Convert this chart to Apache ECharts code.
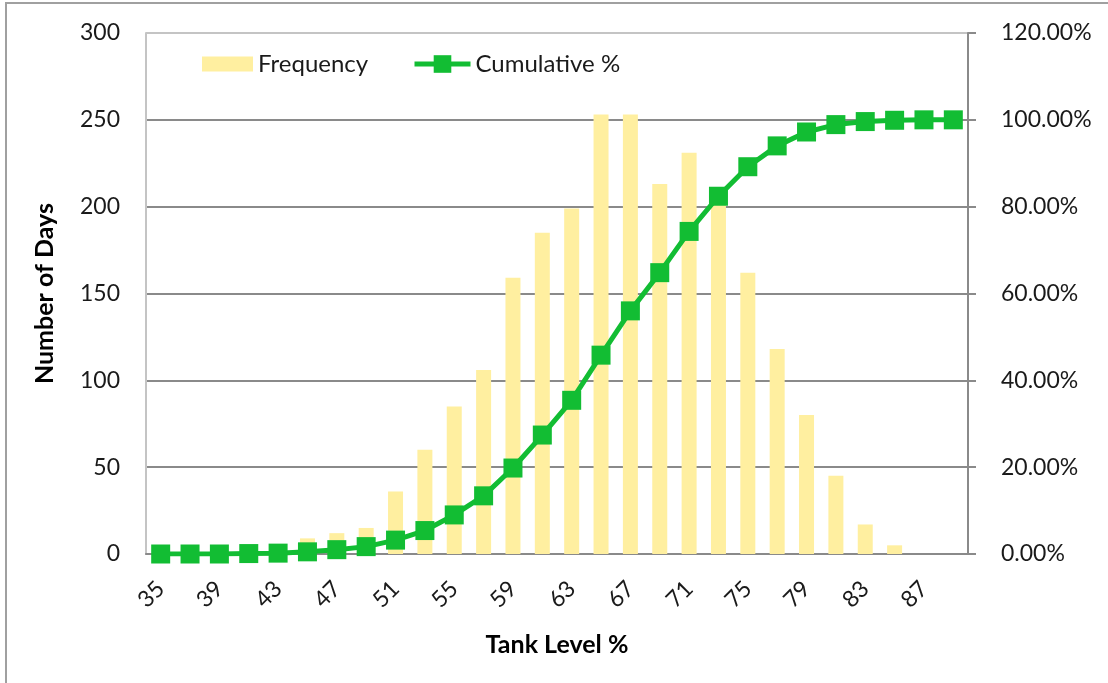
<!DOCTYPE html>
<html>
<head>
<meta charset="utf-8">
<script src="https://cdn.jsdelivr.net/npm/echarts@6/dist/echarts.min.js"></script>
<style>
  html, body { margin: 0; padding: 0; background: #fff; }
  #chart { width: 1108px; height: 683px; }
</style>
</head>
<body>
<div id="chart"></div>
<script>
// Tank level bins (%)
const tankLevels = ['35','37','39','41','43','45','47','49','51','53','55','57','59','61',
                    '63','65','67','69','71','73','75','77','79','81','83','85','87','89'];
// Number of days in each bin
const frequency = [0, 0, 0, 1, 2, 9, 12, 15, 36, 60, 85, 106, 159, 185,
                   199, 253, 253, 213, 231, 201, 162, 118, 80, 45, 17, 5, 0, 0];
// Running total as a share of all days (%)
const cumulativePct = [0, 0, 0, 0.1, 0.2, 0.5, 1.0, 1.7, 3.2, 5.4, 9.0, 13.4, 19.8, 27.4,
                       35.4, 45.8, 56.0, 64.8, 74.3, 82.4, 89.2, 94.0, 97.2, 98.9, 99.6, 99.9, 100, 100];

const FONT = 'Lato';
const TEXT = '#1a1a1a';
const GRID_DARK = '#8a8a8a';
const GRID_LIGHT = '#c4c4c4';
const GREEN = '#12BD33';

const chart = echarts.init(document.getElementById('chart'), null, { renderer: 'canvas' });

const legendText = { fontFamily: FONT, fontSize: 24, color: TEXT };

chart.setOption({
  backgroundColor: '#ffffff',
  animation: false,
  textStyle: { fontFamily: FONT },
  graphic: [{
    type: 'rect',
    shape: { x: 6, y: 3, width: 1300, height: 900 },
    style: { fill: 'none', stroke: '#a0a0a0', lineWidth: 2 },
    silent: true,
    z: 0
  }],
  grid: { left: 146, right: 140, top: 33, bottom: 129 },
  legend: [
    {
      left: 202,
      top: 52,
      padding: 0,
      itemWidth: 51,
      itemHeight: 15,
      textStyle: legendText,
      data: [{ name: 'Frequency', icon: 'rect' }]
    },
    {
      left: 412,
      top: 52,
      padding: 0,
      itemWidth: 56,
      itemHeight: 22,
      lineStyle: { width: 5, color: GREEN },
      textStyle: legendText,
      data: [{ name: 'Cumulative %' }]
    }
  ],
  xAxis: {
    type: 'category',
    data: tankLevels,
    name: 'Tank Level %',
    nameLocation: 'middle',
    nameGap: 78,
    nameTextStyle: { fontFamily: FONT, fontSize: 25, fontWeight: 'bold', color: '#000' },
    axisLine: { show: true, lineStyle: { color: GRID_DARK, width: 2 } },
    axisTick: { show: false },
    axisLabel: {
      interval: 1,
      rotate: 45,
      margin: 31,
      fontFamily: FONT,
      fontSize: 23,
      color: TEXT
    },
    splitLine: { show: false }
  },
  yAxis: [
    {
      type: 'value',
      min: 0,
      max: 300,
      interval: 50,
      name: 'Number of Days',
      nameLocation: 'middle',
      nameGap: 89,
      nameRotate: 90,
      nameTextStyle: { fontFamily: FONT, fontSize: 25, fontWeight: 'bold', color: '#000' },
      axisLine: { show: true, lineStyle: { color: GRID_LIGHT, width: 2 } },
      axisTick: { show: false },
      axisLabel: { margin: 26, fontFamily: FONT, fontSize: 23, color: TEXT },
      splitLine: {
        show: true,
        lineStyle: {
          color: [GRID_DARK, GRID_DARK, GRID_DARK, GRID_DARK, GRID_DARK, GRID_DARK, GRID_LIGHT],
          width: 2
        }
      }
    },
    {
      type: 'value',
      min: 0,
      max: 120,
      interval: 20,
      position: 'right',
      axisLine: { show: true, lineStyle: { color: GRID_DARK, width: 2 } },
      axisTick: { show: true, inside: false, length: 8, lineStyle: { color: GRID_DARK, width: 2 } },
      axisLabel: {
        margin: 33,
        fontFamily: FONT,
        fontSize: 23,
        color: TEXT,
        formatter: v => v.toFixed(2) + '%'
      },
      splitLine: { show: false }
    }
  ],
  series: [
    {
      name: 'Frequency',
      type: 'bar',
      yAxisIndex: 0,
      data: frequency,
      barWidth: 15,
      itemStyle: { color: '#FFEFA0' },
      z: 2
    },
    {
      name: 'Cumulative %',
      type: 'line',
      yAxisIndex: 1,
      data: cumulativePct,
      symbol: 'rect',
      symbolSize: 19,
      showAllSymbol: true,
      lineStyle: { color: GREEN, width: 5 },
      itemStyle: { color: GREEN },
      z: 3
    }
  ]
});
</script>
</body>
</html>
